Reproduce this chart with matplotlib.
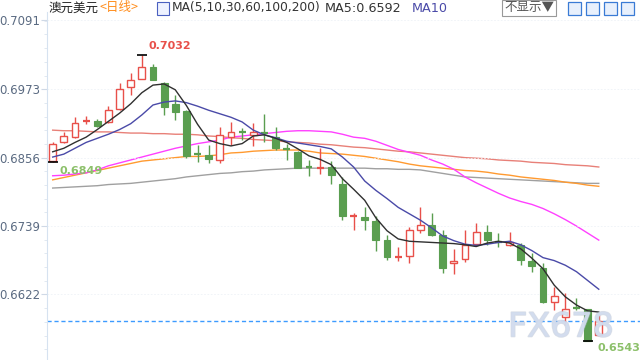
import matplotlib
matplotlib.use("Agg")
import matplotlib.pyplot as plt
import matplotlib.patheffects as pe
from matplotlib.patches import Rectangle

plt.rcParams['font.family'] = ['DejaVu Sans', 'Noto Sans CJK SC']

# daily AUD/USD candles (open, high, low, close)
opens = [0.6851, 0.6883, 0.6892, 0.6918, 0.6919, 0.6917, 0.6940, 0.6976, 0.6991, 0.7011,
         0.6983, 0.6948, 0.6936, 0.6864, 0.6860, 0.6852, 0.6892, 0.6900, 0.6895, 0.6898,
         0.6892, 0.6871, 0.6866, 0.6840, 0.6838, 0.6840, 0.6811, 0.6755, 0.6755, 0.6748,
         0.6715, 0.6685, 0.6687, 0.6733, 0.6740, 0.6724, 0.6675, 0.6682, 0.6709, 0.6729,
         0.6712, 0.6707, 0.6707, 0.6680, 0.6667, 0.6610, 0.6583, 0.6600, 0.6597, 0.6553]
highs = [0.6883, 0.6900, 0.6925, 0.6927, 0.6922, 0.6944, 0.6984, 0.7001, 0.7032, 0.7016,
         0.6986, 0.6963, 0.6938, 0.6877, 0.6877, 0.6908, 0.6917, 0.6906, 0.6916, 0.6930,
         0.6908, 0.6880, 0.6867, 0.6852, 0.6872, 0.6851, 0.6823, 0.6761, 0.6772, 0.6756,
         0.6724, 0.6703, 0.6738, 0.6771, 0.6761, 0.6732, 0.6699, 0.6733, 0.6745, 0.6741,
         0.6727, 0.6728, 0.6710, 0.6693, 0.6675, 0.6634, 0.6625, 0.6616, 0.6598, 0.6587]
lows = [0.6849, 0.6881, 0.6889, 0.6913, 0.6909, 0.6916, 0.6938, 0.6963, 0.6990, 0.6989,
        0.6929, 0.6921, 0.6855, 0.6849, 0.6846, 0.6847, 0.6877, 0.6886, 0.6876, 0.6883,
        0.6869, 0.6852, 0.6838, 0.6825, 0.6828, 0.6811, 0.6749, 0.6733, 0.6732, 0.6697,
        0.6681, 0.6680, 0.6675, 0.6727, 0.6722, 0.6658, 0.6657, 0.6678, 0.6705, 0.6707,
        0.6704, 0.6705, 0.6672, 0.6661, 0.6607, 0.6596, 0.6570, 0.6596, 0.6543, 0.6553]
closes = [0.6879, 0.6893, 0.6916, 0.6920, 0.6910, 0.6938, 0.6973, 0.6989, 0.7011, 0.6989,
          0.6943, 0.6934, 0.6859, 0.6862, 0.6854, 0.6895, 0.6899, 0.6899, 0.6899, 0.6897,
          0.6872, 0.6870, 0.6839, 0.6839, 0.6840, 0.6827, 0.6756, 0.6757, 0.6749, 0.6716,
          0.6686, 0.6687, 0.6732, 0.6740, 0.6724, 0.6667, 0.6679, 0.6707, 0.6729, 0.6716,
          0.6711, 0.6711, 0.6681, 0.6670, 0.6610, 0.6620, 0.6597, 0.6599, 0.6543, 0.6576]
# red = rising day, green = falling day (also for the crosses)
rising = [True, True, True, True, False, True, True, True, True, False,
          False, False, False, False, False, True, True, False, True, False,
          False, False, False, False, True, False, False, True, False, False,
          False, True, True, True, False, False, True, True, True, False,
          False, True, False, False, False, True, True, False, False, True]

ma5 = [0.6866, 0.6872, 0.6882, 0.6891, 0.6904, 0.6918, 0.6932, 0.6948, 0.6967, 0.6980,
       0.6982, 0.6972, 0.6945, 0.6913, 0.6886, 0.6880, 0.6876, 0.6880, 0.6893, 0.6895,
       0.6889, 0.6882, 0.6871, 0.6859, 0.6853, 0.6844, 0.6820, 0.6802, 0.6783, 0.6753,
       0.6731, 0.6717, 0.6713, 0.6712, 0.6711, 0.6710, 0.6709, 0.6707, 0.6704, 0.6710,
       0.6713, 0.6710, 0.6700, 0.6684, 0.6666, 0.6638, 0.6618, 0.6604, 0.6594, 0.6592]
ma10 = [0.6857, 0.6862, 0.6872, 0.6882, 0.6889, 0.6896, 0.6904, 0.6914, 0.6929, 0.6946,
        0.6951, 0.6953, 0.6950, 0.6944, 0.6937, 0.6931, 0.6925, 0.6917, 0.6903, 0.6895,
        0.6890, 0.6884, 0.6881, 0.6878, 0.6875, 0.6871, 0.6857, 0.6840, 0.6816, 0.6800,
        0.6786, 0.6771, 0.6760, 0.6749, 0.6736, 0.6722, 0.6714, 0.6708, 0.6706, 0.6708,
        0.6711, 0.6713, 0.6707, 0.6697, 0.6685, 0.6680, 0.6672, 0.6661, 0.6646, 0.6631]
ma30 = [0.6825, 0.6826, 0.6828, 0.6830, 0.6835, 0.6842, 0.6847, 0.6852, 0.6857, 0.6862,
        0.6867, 0.6872, 0.6876, 0.6880, 0.6883, 0.6886, 0.6891, 0.6893, 0.6895, 0.6897,
        0.6899, 0.6901, 0.6902, 0.6902, 0.6901, 0.6900, 0.6896, 0.6891, 0.6889, 0.6884,
        0.6877, 0.6870, 0.6865, 0.6860, 0.6852, 0.6845, 0.6836, 0.6823, 0.6813, 0.6804,
        0.6795, 0.6787, 0.6781, 0.6776, 0.6769, 0.6760, 0.6750, 0.6739, 0.6727, 0.6715]
ma60 = [0.6818, 0.6822, 0.6826, 0.6830, 0.6834, 0.6838, 0.6842, 0.6846, 0.6850, 0.6852,
        0.6854, 0.6856, 0.6858, 0.6858, 0.6859, 0.6861, 0.6864, 0.6865, 0.6867, 0.6868,
        0.6869, 0.6869, 0.6869, 0.6867, 0.6864, 0.6863, 0.6862, 0.6860, 0.6858, 0.6855,
        0.6852, 0.6849, 0.6845, 0.6842, 0.6840, 0.6838, 0.6836, 0.6834, 0.6833, 0.6831,
        0.6828, 0.6826, 0.6823, 0.6821, 0.6819, 0.6817, 0.6814, 0.6812, 0.6809, 0.6807]
ma100 = [0.6903, 0.6902, 0.6902, 0.6901, 0.6900, 0.6900, 0.6899, 0.6898, 0.6898, 0.6897,
         0.6897, 0.6896, 0.6896, 0.6895, 0.6893, 0.6892, 0.6890, 0.6889, 0.6887, 0.6886,
         0.6885, 0.6883, 0.6882, 0.6881, 0.6879, 0.6878, 0.6876, 0.6874, 0.6873, 0.6871,
         0.6869, 0.6867, 0.6866, 0.6864, 0.6862, 0.6860, 0.6858, 0.6856, 0.6855, 0.6854,
         0.6852, 0.6851, 0.6850, 0.6848, 0.6847, 0.6846, 0.6844, 0.6843, 0.6842, 0.6840]
ma200 = [0.6804, 0.6805, 0.6806, 0.6807, 0.6808, 0.6810, 0.6811, 0.6812, 0.6814, 0.6816,
         0.6818, 0.6820, 0.6823, 0.6825, 0.6827, 0.6829, 0.6830, 0.6832, 0.6833, 0.6835,
         0.6836, 0.6837, 0.6838, 0.6838, 0.6838, 0.6838, 0.6838, 0.6838, 0.6838, 0.6837,
         0.6837, 0.6836, 0.6836, 0.6835, 0.6832, 0.6829, 0.6826, 0.6823, 0.6822, 0.6821,
         0.6820, 0.6819, 0.6818, 0.6817, 0.6816, 0.6815, 0.6814, 0.6813, 0.6812, 0.6812]

yticks = [0.6622, 0.6739, 0.6856, 0.6973, 0.7091]
last_price = 0.6576
high_val = 0.7032
low_left = 0.6849
low_val = 0.6543

RED = '#e8504a'
GREEN = '#5a9e50'

fig = plt.figure(figsize=(6.4, 3.6), dpi=100)
ax = fig.add_axes([47 / 640, 0, 1 - 47 / 640, 348 / 360])
n = len(closes)
xs = list(range(n))

# moving averages
ax.plot(xs, ma200, color='#a0a0a0', lw=1.0, zorder=1)
ax.plot(xs, ma100, color='#e88078', lw=1.0, zorder=1)
ax.plot(xs, ma60, color='#ff9a30', lw=1.0, zorder=1)
ax.plot(xs, ma30, color='#ff40ff', lw=1.0, zorder=1)

# candles
w = 0.62
for i in xs:
    o, h, l, c = opens[i], highs[i], lows[i], closes[i]
    col = RED if rising[i] else GREEN
    ax.vlines(i, l, h, color=col, lw=1.0, zorder=2)
    lo, hi = min(o, c), max(o, c)
    if hi - lo < 0.00025:
        ax.hlines((o + c) / 2, i - w / 2, i + w / 2, color=col, lw=1.6, zorder=3)
    elif rising[i]:
        ax.add_patch(Rectangle((i - w / 2, lo), w, hi - lo, facecolor='white',
                               edgecolor=col, lw=1.0, zorder=3))
    else:
        ax.add_patch(Rectangle((i - w / 2, lo), w, hi - lo, facecolor=col,
                               edgecolor=col, lw=0.8, zorder=3))

ax.plot(xs, ma10, color='#4a4aa8', lw=1.0, zorder=4)
ax.plot(xs, ma5, color='#303030', lw=1.0, zorder=4)

# high / low markers
imax = highs.index(high_val)
imin = lows.index(low_val)
for i, v in [(imax, high_val), (0, low_left), (imin, low_val)]:
    ax.hlines(v, i - 0.45, i + 0.45, color='black', lw=1.2, zorder=5)
ax.annotate(f'{high_val:.4f}', (imax, high_val), xytext=(5, 2.5), textcoords='offset points',
            color=RED, fontsize=8, fontweight='bold', va='bottom')
ax.annotate(f'{low_left:.4f}', (0, low_left), xytext=(5, -3), textcoords='offset points',
            color='#8cc06a', fontsize=8, fontweight='bold', va='top')
ax.annotate(f'{low_val:.4f}', (imin, low_val), xytext=(7, -2), textcoords='offset points',
            color='#8cc06a', fontsize=8, fontweight='bold', va='top')

ax.axhline(last_price, color='#3d9bff', lw=1.0, ls=(0, (3, 2)), zorder=1)

ax.set_xlim(-0.51, 52.7)
ax.set_ylim(0.6510, 0.7105)
ax.set_xticks([])
ax.set_yticks(yticks)
ax.set_yticklabels([f'{v:.4f}' for v in yticks])
ax.set_yticks([yticks[0] + k * 0.00234 for k in range(-4, 21)], minor=True)
ax.tick_params(axis='y', which='major', length=4, color='#cfd9e6', labelsize=8.5,
               labelcolor='#5b6b82', pad=1)
ax.tick_params(axis='y', which='minor', length=2.5, color='#dde5ef')
ax.grid(axis='y', which='major', color='#eef2f7', lw=0.6, ls=(0, (2, 2)))
for s in ['top', 'right', 'bottom']:
    ax.spines[s].set_visible(False)
ax.spines['left'].set_color('#d6e2f0')

# header line
def fx(x):
    return x / 640

def fy(y):
    return 1 - y / 360

cjk = ['Noto Sans CJK SC', 'DejaVu Sans']
fig.text(fx(49), fy(8), '澳元美元', fontsize=9, color='#222222', va='center', family=cjk)
fig.text(fx(100), fy(8), '<日线>', fontsize=9, color='#ff8c1a', va='center', family=cjk)
fig.patches.append(Rectangle((fx(157), fy(15)), fx(12), 13 / 360, transform=fig.transFigure,
                             facecolor='#eef2ff', edgecolor='#4a60c0', lw=0.8))
fig.text(fx(172), fy(8), 'MA(5,10,30,60,100,200)', fontsize=8.8, color='#333333', va='center')
fig.text(fx(325), fy(8), 'MA5:0.6592', fontsize=9.2, color='#333333', va='center')
fig.text(fx(412), fy(8), 'MA10', fontsize=9.2, color='#4a4aa8', va='center')
fig.text(fx(529), fy(8), '不显示▼', fontsize=9, color='#555555', va='center', ha='center',
         family=cjk,
         bbox=dict(boxstyle='square,pad=0.15', facecolor='white', edgecolor='#999999', lw=0.8))
for x0 in [568, 586, 604, 621]:
    fig.patches.append(Rectangle((fx(x0), fy(15)), fx(13), 13 / 360, transform=fig.transFigure,
                                 facecolor='#e8f0fc', edgecolor='#3a7bd5', lw=0.9))

fig.text(fx(561), fy(327), 'FX678', fontsize=24, color='#d2dcee', ha='center', va='center',
         zorder=10, alpha=0.75,
         path_effects=[pe.withStroke(linewidth=1.2, foreground='#b8c2d2', alpha=0.5), pe.Normal()])

fig.savefig('out.png', dpi=100)
